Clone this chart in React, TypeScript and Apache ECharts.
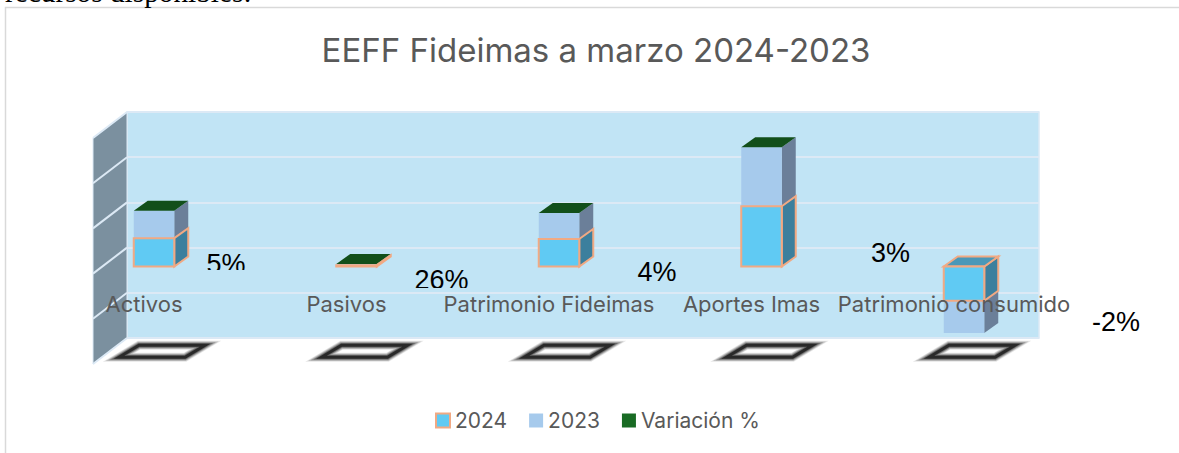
import React, { useEffect, useRef } from "react";
import * as echarts from "echarts";

const categories = ["Activos", "Pasivos", "Patrimonio Fideimas", "Aportes Imas", "Patrimonio consumido"];
const values2024 = [63, 3, 61, 134, -76];
const values2023 = [61, 2.4, 58, 131, -72];
const variation = [0.05, 0.26, 0.04, 0.03, -0.02];
const wallTicks = [-200, -100, 0, 100, 200, 300];
const floorLevel = -185;
const labelDx = [82, 95, 108, 139, 162];
const labelLevel = [6, -30, -12, 30, -123];
const labelClipBottom = [270, 288, 0, 0, 0];
const ringLayers = [
  [9, 0.1],
  [7.5, 0.16],
  [6, 0.22],
  [4.5, 0.3],
  [3, 0.6],
];

const FONT = "Inter, 'Noto Sans', sans-serif";
const DX = 14;
const DY = -10;
const BAR_SHIFT = 10;

function face(points: number[][], fill: string, stroke?: string) {
  return {
    type: "polygon",
    shape: { points },
    style: { fill, stroke: stroke || "none", lineWidth: stroke ? 2 : 0, lineJoin: "miter" },
  };
}

function cuboid(front: string, side: string, top: string, stroke: string | undefined, topVisible: (a: number, b: number) => boolean) {
  return (params: any, api: any) => {
    const i = api.value(0);
    const a = api.coord([i, api.value(1)]);
    const b = api.coord([i, api.value(2)]);
    const w = api.size([1, 0])[0] * 0.2;
    const x0 = a[0] + BAR_SHIFT - w / 2;
    const x1 = x0 + w;
    const yTop = Math.min(a[1], b[1]);
    const yBot = Math.max(a[1], b[1]);
    const children: any[] = [
      face([[x1, yTop], [x1 + DX, yTop + DY], [x1 + DX, yBot + DY], [x1, yBot]], side, stroke),
    ];
    if (topVisible(api.value(1), api.value(2))) {
      children.push(face([[x0, yTop], [x0 + DX, yTop + DY], [x1 + DX, yTop + DY], [x1, yTop]], top, stroke));
    }
    children.push(face([[x0, yTop], [x1, yTop], [x1, yBot], [x0, yBot]], front, stroke));
    return { type: "group", children };
  };
}

export default function App() {
  const ref = useRef<HTMLDivElement>(null);
  useEffect(() => {
    const chart = echarts.init(ref.current!, undefined, { renderer: "svg" });
    const stack24 = values2024.map((v, i) => [i, 0, v]);
    const stack23 = values2023.map((v, i) => [i, values2024[i], values2024[i] + v]);
    const stackVar = variation.map((v, i) => {
      const end = values2024[i] + values2023[i];
      return [i, end, end + v];
    });
    chart.setOption({
      animation: false,
      backgroundColor: "#ffffff",
      title: {
        text: "EEFF Fideimas a marzo 2024-2023",
        left: 591,
        top: 28,
        textAlign: "center",
        textStyle: { color: "#595959", fontSize: 33, fontWeight: "normal", fontFamily: FONT },
      },
      legend: {
        left: 430,
        top: 405,
        itemWidth: 14,
        itemHeight: 14,
        itemGap: 22,
        textStyle: { color: "#595959", fontSize: 21, fontFamily: FONT },
        data: [
          { name: "2024", icon: "rect", itemStyle: { color: "#60caf3", borderColor: "#f1a983", borderWidth: 2 } },
          { name: "2023", icon: "rect", itemStyle: { color: "#a6caec", borderWidth: 0 } },
          { name: "Variación %", icon: "rect", itemStyle: { color: "#196b24", borderWidth: 0 } },
        ],
      },
      grid: [
        { left: 127, top: 112, width: 912, height: 226, show: true, backgroundColor: "#c1e4f5", borderColor: "#dce9f5", borderWidth: 1.5 },
        { left: 42.75, top: 131.5, width: 1012.5, height: 225 },
      ],
      xAxis: [
        { gridIndex: 0, type: "category", show: false, data: categories },
        {
          gridIndex: 1,
          type: "category",
          data: categories,
          z: 10,
          axisLine: { show: false },
          axisTick: { show: false },
          axisLabel: { interval: 0, margin: -64, color: "#595959", fontSize: 22, fontFamily: FONT },
        },
      ],
      yAxis: [
        {
          gridIndex: 0,
          type: "value",
          min: -200,
          max: 300,
          interval: 100,
          axisLine: { show: false },
          axisTick: { show: false },
          axisLabel: { show: false },
          splitLine: { show: true, lineStyle: { color: "#dce9f5", width: 2 } },
        },
        {
          gridIndex: 1,
          type: "value",
          min: -200,
          max: 300,
          interval: 100,
          axisLine: { show: false },
          axisTick: { show: false },
          axisLabel: { show: false },
          splitLine: { show: false },
        },
      ],
      graphic: [
        {
          type: "rect",
          z: 0,
          shape: { x: 5.5, y: 7.5, width: 1300, height: 600 },
          style: { fill: "none", stroke: "#d9d9d9", lineWidth: 1.5 },
        },
        {
          type: "text",
          x: 5,
          y: -22.5,
          style: { text: "recursos disponibles:", fill: "#000", fontFamily: "'Liberation Serif', serif", fontSize: 29.3 },
        },
      ],
      series: [
        {
          // soft floor shadows under each category
          type: "custom",
          xAxisIndex: 1,
          yAxisIndex: 1,
          z: 0,
          silent: true,
          data: categories.map((_, i) => [i, floorLevel]),
          encode: { x: 0, y: 1 },
          renderItem: (params: any, api: any) => {
            const p = api.coord([api.value(0), api.value(1)]);
            const x = p[0] + BAR_SHIFT;
            const y = p[1] + 1.5;
            const points = [[x - 35, y + 6], [x - 15, y - 6], [x + 51, y - 6], [x + 31, y + 6]];
            return {
              type: "group",
              children: ringLayers.map(([width, alpha]) => ({
                type: "polygon",
                shape: { points },
                style: { fill: "none", stroke: `rgba(0,0,0,${alpha})`, lineWidth: width, lineJoin: "miter", miterLimit: 4 },
              })),
            };
          },
        },
        {
          // side wall of the 3D box
          type: "custom",
          xAxisIndex: 0,
          yAxisIndex: 0,
          z: 1,
          silent: true,
          data: wallTicks.map((v) => [0, v]),
          encode: { x: 0, y: 1 },
          renderItem: (params: any, api: any) => {
            const cs = params.coordSys;
            const y = api.coord([0, api.value(1)])[1];
            const left = cs.x;
            const children: any[] = [];
            if (params.dataIndex === 0) {
              children.push({
                type: "polygon",
                shape: { points: [[left - 34, cs.y + 26], [left, cs.y], [left, cs.y + cs.height], [left - 34, cs.y + cs.height + 26]] },
                style: { fill: "#7b909f", stroke: "#dce9f5", lineWidth: 1 },
              });
            }
            children.push({
              type: "line",
              shape: { x1: left - 34, y1: y + 26, x2: left, y2: y },
              style: { stroke: "#dce9f5", lineWidth: 2 },
            });
            return { type: "group", children };
          },
        },
        {
          name: "2023",
          type: "custom",
          xAxisIndex: 1,
          yAxisIndex: 1,
          z: 3,
          data: stack23,
          encode: { x: 0, y: [1, 2] },
          renderItem: cuboid("#a6caec", "#6b7f99", "#6b8fa8", undefined, () => false),
        },
        {
          name: "Variación %",
          type: "custom",
          xAxisIndex: 1,
          yAxisIndex: 1,
          z: 4,
          data: stackVar,
          encode: { x: 0, y: [1, 2] },
          renderItem: cuboid("#196b24", "#124f1a", "#124f1a", undefined, (a, b) => b > 0),
        },
        {
          name: "2024",
          type: "custom",
          xAxisIndex: 1,
          yAxisIndex: 1,
          z: 5,
          data: stack24,
          encode: { x: 0, y: [1, 2] },
          renderItem: cuboid("#60caf3", "#3c7f9d", "#4a98b8", "#f1a983", (a, b) => b < 0),
        },
        {
          // value labels of the variation series
          type: "custom",
          xAxisIndex: 1,
          yAxisIndex: 1,
          z: 8,
          silent: true,
          data: variation.map((v, i) => [i, labelLevel[i], v]),
          encode: { x: 0, y: 1 },
          renderItem: (params: any, api: any) => {
            const i = api.value(0);
            const p = api.coord([i, api.value(1)]);
            const x = p[0] + labelDx[i];
            const clipBottom = labelClipBottom[i];
            const el: any = {
              type: "text",
              style: {
                text: `${Math.round(api.value(2) * 100)}%`,
                x,
                y: p[1],
                fill: "#000000",
                fontFamily: "'Liberation Sans', Arial, sans-serif",
                fontSize: 27,
                textAlign: "center",
                textVerticalAlign: "middle",
              },
            };
            if (clipBottom) {
              el.clipPath = { type: "rect", shape: { x: x - 50, y: clipBottom - 40, width: 100, height: 40 } };
            }
            return el;
          },
        },
      ],
    });
    return () => chart.dispose();
  }, []);
  return (
    <div
      ref={ref}
      style={{ position: "absolute", left: 0, top: 0, width: 1179, height: 453, overflow: "hidden" }}
    />
  );
}
